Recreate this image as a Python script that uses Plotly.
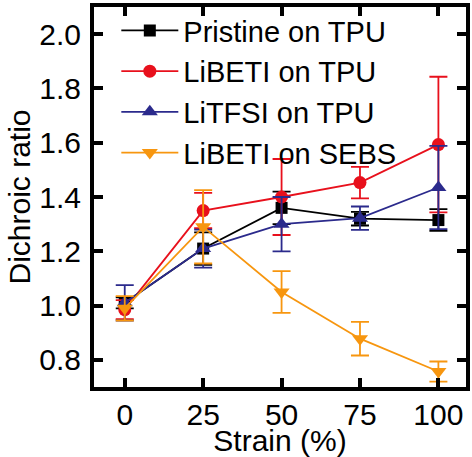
import plotly.graph_objects as go

# Strain levels (%)
strain = [0, 25, 50, 75, 100]

# Dichroic ratio and standard deviation for each sample
pristine_tpu = [1.01, 1.21, 1.36, 1.32, 1.315]
pristine_tpu_err = [0.02, 0.06, 0.06, 0.025, 0.04]

libeti_tpu = [0.985, 1.35, 1.40, 1.453, 1.593]
libeti_tpu_err = [0.035, 0.065, 0.14, 0.058, 0.25]

litfsi_tpu = [1.01, 1.21, 1.30, 1.322, 1.435]
litfsi_tpu_err = [0.065, 0.07, 0.10, 0.043, 0.153]

libeti_sebs = [0.99, 1.29, 1.05, 0.878, 0.757]
libeti_sebs_err = [0.045, 0.135, 0.077, 0.062, 0.037]

series_names = ["Pristine on TPU", "LiBETI on TPU", "LiTFSI on TPU", "LiBETI on SEBS"]

x_ticks = [0, 25, 50, 75, 100]
y_ticks = [0.8, 1.0, 1.2, 1.4, 1.6, 1.8, 2.0]
y_tick_text = ["0.8", "1.0", "1.2", "1.4", "1.6", "1.8", "2.0"]

FONT = "Liberation Sans, Arial, Helvetica, sans-serif"

styles = [
    dict(color="#000000", symbol="square", size=12),
    dict(color="#e8101c", symbol="circle", size=13),
    dict(color="#2b2a8c", symbol="triangle-up", size=14),
    dict(color="#f7960f", symbol="triangle-down", size=14),
]

data = [
    (pristine_tpu, pristine_tpu_err),
    (libeti_tpu, libeti_tpu_err),
    (litfsi_tpu, litfsi_tpu_err),
    (libeti_sebs, libeti_sebs_err),
]

fig = go.Figure()
for name, (vals, errs), st in zip(series_names, data, styles):
    fig.add_trace(go.Scatter(
        x=strain, y=vals, name=name, mode="lines+markers",
        line=dict(color=st["color"], width=1.8),
        marker=dict(color=st["color"], symbol=st["symbol"], size=st["size"],
                    line=dict(width=0)),
        error_y=dict(type="data", array=errs, visible=True,
                     color=st["color"], thickness=1.8, width=9),
    ))

axis_common = dict(
    showline=True, linewidth=4, linecolor="black", mirror="ticks",
    ticks="inside", ticklen=9, tickwidth=4, tickcolor="black",
    showgrid=False, zeroline=False,
    tickfont=dict(family=FONT, size=30, color="black"),
)

fig.update_xaxes(
    range=[-9.8, 108.8], tickvals=x_ticks, ticklabelstandoff=-2,
    title=dict(text="Strain (%)", font=dict(family=FONT, size=30, color="black"),
               standoff=0),
    **axis_common,
)
fig.update_yaxes(
    range=[0.7, 2.1], tickvals=y_ticks, ticktext=y_tick_text,
    ticklabelstandoff=3,
    title=dict(text="Dichroic ratio", font=dict(family=FONT, size=30, color="black"),
               standoff=1),
    **axis_common,
)

fig.update_layout(
    width=472, height=457,
    margin=dict(l=94, r=2, t=7, b=70),
    paper_bgcolor="white", plot_bgcolor="white",
    font=dict(family=FONT, size=30, color="black"),
    showlegend=True,
    legend=dict(
        x=0.06, y=1.005, xanchor="left", yanchor="top",
        bgcolor="rgba(0,0,0,0)", borderwidth=0,
        font=dict(family=FONT, size=29, color="black"),
        itemwidth=57, tracegroupgap=0,
    ),
)

fig.write_html("out.html")
